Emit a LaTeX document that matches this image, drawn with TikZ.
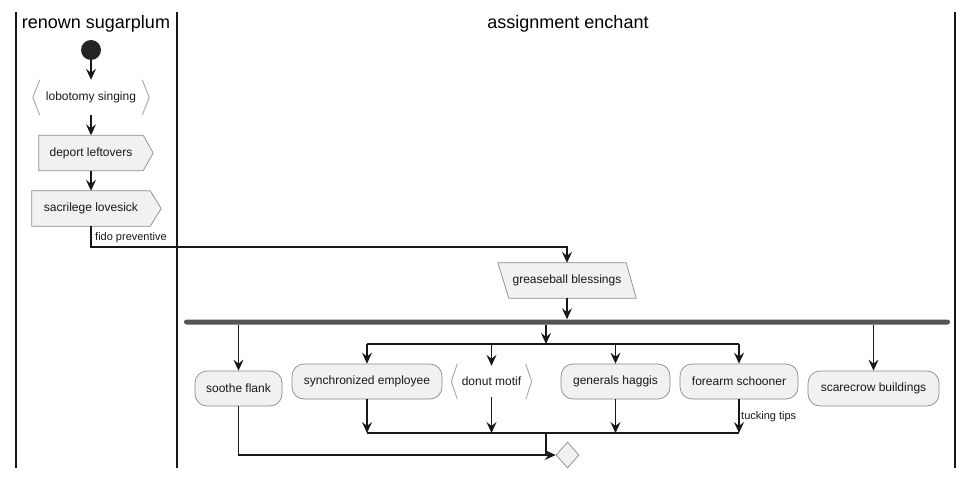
\documentclass[tikz,border=0pt]{standalone}
\usepackage{fontspec}
\setmainfont{Liberation Sans}
\usetikzlibrary{arrows.meta,shapes.geometric,calc,backgrounds}
\definecolor{boxfill}{HTML}{F1F1F1}
\definecolor{ink}{HTML}{181818}
\definecolor{edge}{HTML}{8A8A8A}
\definecolor{barc}{HTML}{555555}
\tikzset{
  txt/.style={font=\fontsize{12pt}{14pt}\selectfont, text=ink, inner sep=0pt, minimum height=35pt},
  act/.style={txt, draw=edge, fill=boxfill, line width=0.7pt, rounded corners=12pt},
  ghost/.style={txt},
  shp/.style={draw=edge, fill=boxfill, line width=0.7pt},
  brk/.style={draw=edge!70, line width=1pt},
  flow/.style={draw=ink, line width=1.1pt},
  arr/.style={flow, -{Stealth[length=11pt,width=10pt,inset=4pt]}},
  lbl/.style={font=\fontsize{11pt}{13pt}\selectfont, text=ink, inner sep=0pt, anchor=west},
  lane/.style={draw=ink, line width=1.6pt},
  title/.style={font=\fontsize{18pt}{21pt}\selectfont, text=black, inner sep=0pt},
}
\begin{document}
\begin{tikzpicture}[x=1pt,y=-1pt]
\useasboundingbox (0,0) rectangle (973,478);
% lanes
\draw[lane] (16,12) -- (16,468);
\draw[lane] (177,12) -- (177,468);
\draw[lane] (955,12) -- (955,468);
\node[title] (t1) at (96,24) {renown sugarplum};
\node[title] (t2) at (568,24) {assignment enchant};

% left lane
\node[circle, fill=ink!95, minimum size=20pt, inner sep=0pt] (start) at (91,50) {};
\node[ghost, minimum width=116pt] (lob) at (91,97.5) {lobotomy singing};
\node[ghost, minimum width=104pt] (dep) at (91,153) {deport leftovers};
\node[ghost, minimum width=118pt] (sac) at (91,208.5) {sacrilege lovesick};

% right lane
\node[ghost, minimum width=138pt] (grease) at (567,280.5) {greaseball blessings};
\node[fill=barc, minimum width=766pt, minimum height=5pt, inner sep=0pt, rounded corners=2.5pt] (fork) at (567,322) {};

\node[act, minimum width=87pt] (soothe) at (238.5,388.5) {soothe flank};
\node[act, minimum width=150pt] (sync) at (367,381.5) {synchronized employee};
\node[ghost, minimum width=80pt] (donut) at (491.5,381.5) {donut motif};
\node[act, minimum width=109pt] (gen) at (615.5,381.5) {generals haggis};
\node[act, minimum width=118pt] (fore) at (739,381.5) {forearm schooner};
\node[act, minimum width=131pt] (scare) at (873.5,388.5) {scarecrow buildings};
\node[diamond, shp, minimum width=23pt, minimum height=26pt, inner sep=0pt] (diam) at (567.5,455) {};

\begin{scope}[on background layer]
  % lobotomy brackets
  \draw[brk] ($(lob.north west)+(7,0)$) -- (lob.west) -- ($(lob.south west)+(7,0)$);
  \draw[brk] ($(lob.north east)+(-7,0)$) -- (lob.east) -- ($(lob.south east)+(-7,0)$);
  % donut brackets
  \draw[brk] ($(donut.north west)+(6,0)$) -- (donut.west) -- ($(donut.south west)+(6,0)$);
  \draw[brk] ($(donut.north east)+(-6,0)$) -- (donut.east) -- ($(donut.south east)+(-6,0)$);
  % signal shapes
  \draw[shp] (dep.north west) -- (dep.north east) -- ($(dep.east)+(10,0)$) -- (dep.south east) -- (dep.south west) -- cycle;
  \draw[shp] (sac.north west) -- (sac.north east) -- ($(sac.east)+(11,0)$) -- (sac.south east) -- (sac.south west) -- cycle;
  % parallelogram
  \draw[shp] (grease.north west) -- ($(grease.north east)+(-10,0)$) -- (grease.south east) -- ($(grease.south west)+(11,0)$) -- cycle;
\end{scope}

% connectors left
\draw[arr] (start) -- (lob);
\draw[arr] (lob) -- (dep);
\draw[arr] (dep) -- (sac);
\coordinate (bend) at (567,247);
\draw[arr] (sac.south) |- (bend) -- (grease.north);
\node[lbl] (fido) at (95,237.5) {fido preventive};

\draw[arr] (grease.south) -- (fork.north -| grease.south);

% fork branches
\draw[arr] (fork.south -| soothe.north) -- (soothe.north);
\draw[arr] (fork.south -| scare.north) -- (scare.north);
\coordinate (splc) at (546,344);
\draw[arr] (fork.south -| splc) -- (splc);
\coordinate (spll) at (367,344);
\coordinate (splr) at (739,344);
\draw[flow] (spll) -- (splr);
\draw[arr] (spll) -- (sync.north);
\draw[arr] (donut.north |- spll) -- ($(donut.north)+(0,2)$);
\draw[arr] (gen.north |- spll) -- (gen.north);
\draw[arr] (splr) -- (fore.north);

% merge
\coordinate (mrgl) at (367,433);
\coordinate (mrgr) at (739,433);
\coordinate (mrgc) at (546,433);
\draw[arr] (sync.south) -- (mrgl);
\draw[arr] ($(donut.south)+(0,-2)$) -- (donut.south |- mrgl);
\draw[arr] (gen.south) -- (gen.south |- mrgl);
\draw[arr] (fore.south) -- (mrgr);
\node[lbl] (tuck) at (741,417) {tucking tips};
\draw[flow] (mrgl) -- (mrgr);
\draw[flow] (mrgc) -- (mrgc |- diam.west);
\draw[arr] (soothe.south) |- (diam.west);
\end{tikzpicture}
\end{document}
